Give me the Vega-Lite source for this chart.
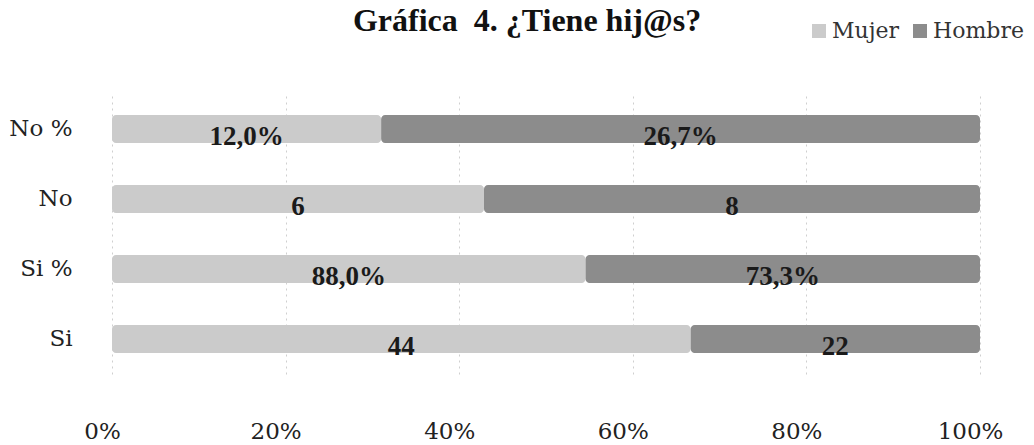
{
  "$schema": "https://vega.github.io/schema/vega-lite/v6.json",
  "autosize": "none",
  "width": 868,
  "height": 280,
  "padding": {"left": 112, "top": 94, "right": 54, "bottom": 71},
  "background": "white",
  "view": {"stroke": null},
  "title": {
    "text": "Gráfica \u00a04. ¿Tiene hij@s?",
    "font": "Liberation Serif",
    "fontSize": 32,
    "fontWeight": "bold",
    "color": "#111",
    "anchor": "middle",
    "dx": -19,
    "offset": 0,
    "dy": 18
  },
  "data": {
    "values": [
      {"cat": "No %", "sexo": "Mujer", "orden": 1, "valor": 12.0, "etiqueta": "12,0%"},
      {"cat": "No %", "sexo": "Hombre", "orden": 2, "valor": 26.7, "etiqueta": "26,7%"},
      {"cat": "No", "sexo": "Mujer", "orden": 1, "valor": 6, "etiqueta": "6"},
      {"cat": "No", "sexo": "Hombre", "orden": 2, "valor": 8, "etiqueta": "8"},
      {"cat": "Si %", "sexo": "Mujer", "orden": 1, "valor": 88.0, "etiqueta": "88,0%"},
      {"cat": "Si %", "sexo": "Hombre", "orden": 2, "valor": 73.3, "etiqueta": "73,3%"},
      {"cat": "Si", "sexo": "Mujer", "orden": 1, "valor": 44, "etiqueta": "44"},
      {"cat": "Si", "sexo": "Hombre", "orden": 2, "valor": 22, "etiqueta": "22"}
    ]
  },
  "transform": [
    {"stack": "valor", "groupby": ["cat"], "sort": [{"field": "orden"}], "offset": "normalize", "as": ["v0", "v1"]},
    {"calculate": "(datum.v0 + datum.v1) / 2", "as": "vmid"}
  ],
  "encoding": {
    "y": {
      "field": "cat",
      "type": "nominal",
      "sort": ["No %", "No", "Si %", "Si"],
      "scale": {"paddingInner": 0.6, "paddingOuter": 0.3},
      "axis": {
        "title": null,
        "domain": false,
        "ticks": false,
        "labelFont": "DejaVu Serif",
        "labelFontSize": 23,
        "labelColor": "#222",
        "labelPadding": 40,
        "labelDy": 2
      }
    }
  },
  "layer": [
    {
      "mark": {"type": "bar", "cornerRadiusEnd": 4},
      "encoding": {
        "x": {
          "field": "v0",
          "type": "quantitative",
          "scale": {"domain": [0, 1]},
          "axis": {
            "format": ".0%",
            "values": [0, 0.2, 0.4, 0.6, 0.8, 1],
            "title": null,
            "domain": false,
            "ticks": false,
            "grid": true,
            "gridDash": [2, 4],
            "gridColor": "#cfcfcf",
            "labelFlush": false,
            "labelFont": "DejaVu Serif",
            "labelFontSize": 23,
            "labelColor": "#222",
            "labelPadding": 46,
            "labelOffset": -10
          }
        },
        "x2": {"field": "v1"},
        "color": {
          "field": "sexo",
          "type": "nominal",
          "sort": ["Mujer", "Hombre"],
          "scale": {"domain": ["Mujer", "Hombre"], "range": ["#cbcbcb", "#8c8c8c"]},
          "legend": {
            "title": null,
            "orient": "none",
            "legendX": 696,
            "legendY": -74,
            "padding": 0,
            "direction": "horizontal",
            "symbolType": "square",
            "symbolSize": 196,
            "symbolStrokeWidth": 0,
            "labelFont": "DejaVu Serif",
            "labelFontSize": 22,
            "labelColor": "#333",
            "columnPadding": 9,
            "labelOffset": 2
          }
        }
      }
    },
    {
      "mark": {"type": "text", "font": "Liberation Serif", "fontSize": 27, "fontWeight": "bold", "color": "#1a1a1a", "dy": 8},
      "encoding": {
        "x": {"field": "vmid", "type": "quantitative"},
        "text": {"field": "etiqueta", "type": "nominal"}
      }
    }
  ]
}
